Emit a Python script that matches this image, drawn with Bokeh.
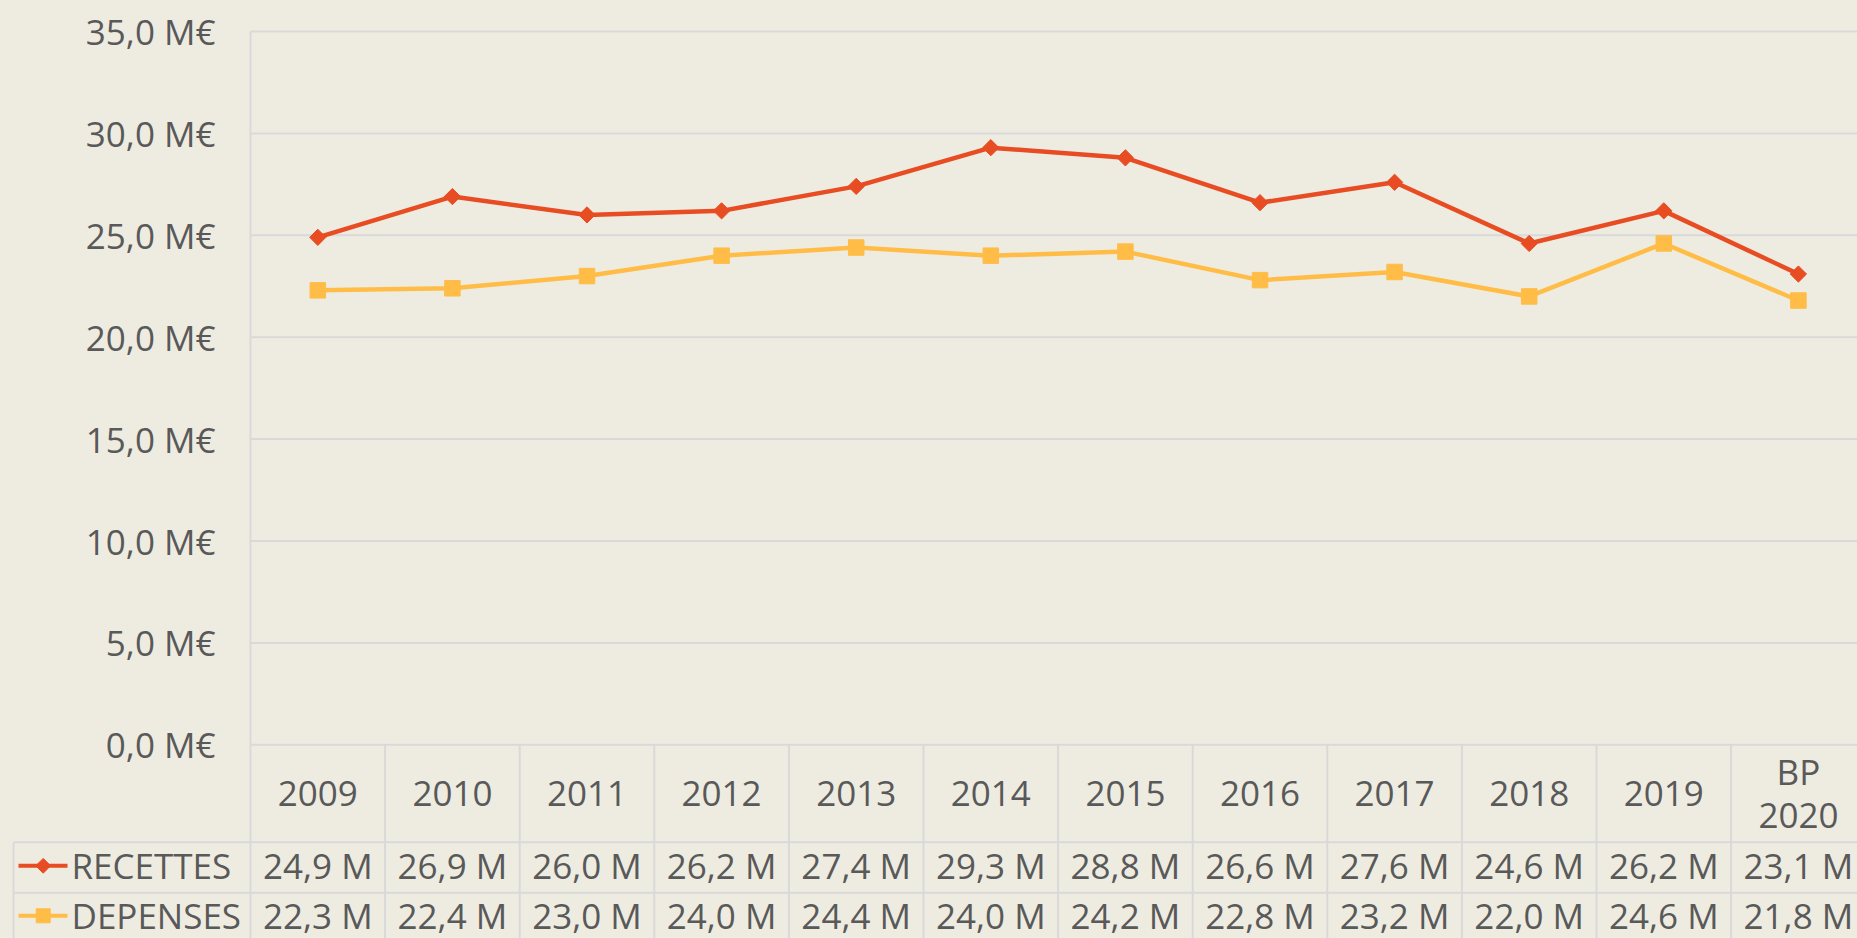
import numpy as np
from bokeh.plotting import figure
from bokeh.models import Range1d, GlobalInlineStyleSheet
from bokeh.core.properties import value
from bokeh.embed import file_html
from bokeh.resources import INLINE

# ---------------- data ----------------
categories = ["2009", "2010", "2011", "2012", "2013", "2014", "2015",
              "2016", "2017", "2018", "2019", "BP\n2020"]
recettes = [24.9, 26.9, 26.0, 26.2, 27.4, 29.3, 28.8, 26.6, 27.6, 24.6, 26.2, 23.1]
depenses = [22.3, 22.4, 23.0, 24.0, 24.4, 24.0, 24.2, 22.8, 23.2, 22.0, 24.6, 21.8]
series_names = ["RECETTES", "DEPENSES"]
y_ticks = [0, 5, 10, 15, 20, 25, 30, 35]
y_tick_labels = ["0,0 M€", "5,0 M€", "10,0 M€", "15,0 M€", "20,0 M€",
                 "25,0 M€", "30,0 M€", "35,0 M€"]

# ---------------- style ----------------
FONT = "Open Sans"
FS = "35px"
BG = "#EEECE1"
TXT = "#595959"
GRID = "#D9D9D9"
RED = "#E84C22"
GOLD = "#FFBD47"

W, H = 1857, 938
CW = 134.6          # px per category
PPU = 20.38         # px per value unit
X0 = 250.0          # frame px of category origin
Y0 = 744.3          # frame px of value 0

n = len(categories)
xs = np.arange(n) + 0.5

p = figure(width=W, height=H,
           x_range=Range1d(-X0 / CW, (W - X0) / CW),
           y_range=Range1d((Y0 - H) / PPU, Y0 / PPU),
           output_backend="svg", toolbar_location=None,
           x_axis_location=None, y_axis_location=None,
           min_border=0, background_fill_color=BG, border_fill_color=BG,
           outline_line_color=None)
p.grid.visible = False
p.stylesheets = [GlobalInlineStyleSheet(css="html, body { background-color: #EEECE1; }")]

bottom = (Y0 - H - 20) / PPU
right = 12.5
header_bottom = -97.4 / PPU
row_bottom = -148.0 / PPU
table_left = -237.0 / CW

# gridlines
gy = [t for t in y_ticks]
p.segment(x0=[0] * len(gy), x1=[right] * len(gy), y0=gy, y1=gy,
          line_color=GRID, line_width=2)
# left axis line
p.segment(x0=[0], x1=[0], y0=[y_ticks[-1]], y1=[bottom], line_color=GRID, line_width=2)
# table verticals
vk = list(range(1, n + 1))
p.segment(x0=vk, x1=vk, y0=[0] * len(vk), y1=[bottom] * len(vk),
          line_color=GRID, line_width=2)
# table horizontals
p.segment(x0=[table_left] * 2, x1=[right] * 2, y0=[header_bottom, row_bottom],
          y1=[header_bottom, row_bottom], line_color=GRID, line_width=2)
p.segment(x0=[table_left], x1=[table_left], y0=[header_bottom], y1=[bottom],
          line_color=GRID, line_width=2)

# series
p.line(xs, recettes, line_color=RED, line_width=4.5)
p.scatter(xs, recettes, marker="square", angle=np.pi / 4, size=11.5,
          fill_color=RED, line_color=RED)
p.line(xs, depenses, line_color=GOLD, line_width=4.5)
p.scatter(xs, depenses, marker="square", size=15.5, fill_color=GOLD, line_color=GOLD)

txt = dict(text_font=value(FONT), text_font_size=FS, text_color=TXT,
           text_baseline="middle")

# y tick labels
p.text(x=[-35.0 / CW] * len(y_ticks), y=y_ticks, text=y_tick_labels,
       text_align="right", **txt)

# header row
p.text(x=xs, y=[-48.3 / PPU] * n, text=categories, text_align="center",
       text_line_height=0.92, **txt)

# value rows
row_y = [-121.0 / PPU, -171.0 / PPU]
fmt = lambda v: f"{v:.1f} M".replace(".", ",")
p.text(x=xs, y=[row_y[0]] * n, text=[fmt(v) for v in recettes], text_align="center", **txt)
p.text(x=xs, y=[row_y[1]] * n, text=[fmt(v) for v in depenses], text_align="center", **txt)

# legend keys in row headers
lx0, lx1, lm = -232.0 / CW, -183.0 / CW, -207.3 / CW
p.segment(x0=[lx0], x1=[lx1], y0=[row_y[0]], y1=[row_y[0]], line_color=RED, line_width=4)
p.scatter([lm], [row_y[0]], marker="square", angle=np.pi / 4, size=10.5,
          fill_color=RED, line_color=RED)
p.segment(x0=[lx0], x1=[lx1], y0=[row_y[1]], y1=[row_y[1]], line_color=GOLD, line_width=4)
p.scatter([lm], [row_y[1]], marker="square", size=14, fill_color=GOLD, line_color=GOLD)
p.text(x=[-179.0 / CW] * 2, y=row_y, text=series_names, text_align="left", **txt)

open("out.html", "w").write(file_html(p, INLINE))
